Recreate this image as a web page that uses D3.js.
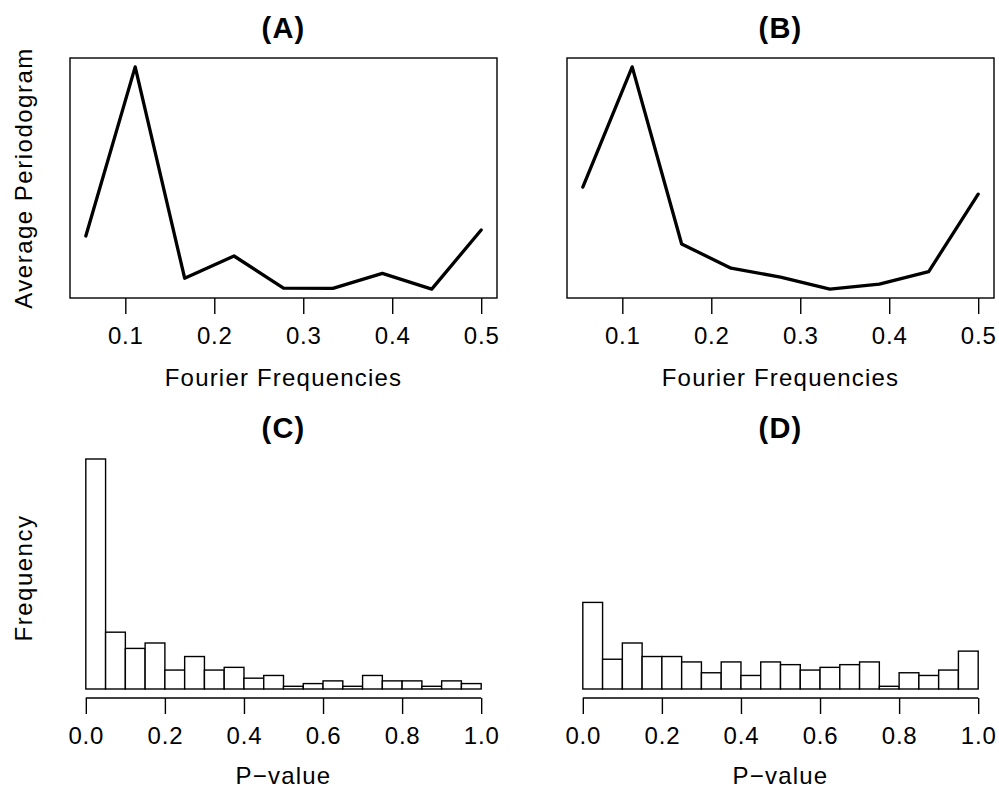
<!DOCTYPE html>
<html>
<head>
<meta charset="utf-8">
<script src="https://cdn.jsdelivr.net/npm/d3@7"></script>
<style>
body { margin: 0; background: #fff; }
svg text { font-family: "Liberation Sans", Arial, Helvetica, sans-serif; fill: #000; }
</style>
</head>
<body>
<div id="chart"></div>
<script>
// Fourier frequencies (k/18) and average periodograms (relative units, no y axis shown)
const fourierFreqs = [0.0556, 0.1111, 0.1667, 0.2222, 0.2778, 0.3333, 0.3889, 0.4444, 0.5];
const periodogramA = [0.239, 1.0, 0.049, 0.149, 0.004, 0.003, 0.071, 0.0, 0.266];
const periodogramB = [0.459, 1.0, 0.203, 0.094, 0.054, 0.0, 0.022, 0.079, 0.427];
const freqTicks = [0.1, 0.2, 0.3, 0.4, 0.5];

// P-value histograms, 20 bins of width 0.05
const binEdges = [0, 0.05, 0.1, 0.15, 0.2, 0.25, 0.3, 0.35, 0.4, 0.45, 0.5,
                  0.55, 0.6, 0.65, 0.7, 0.75, 0.8, 0.85, 0.9, 0.95, 1.0];
const countsC = [85, 21, 15, 17, 7, 12, 7, 8, 4, 5, 1, 2, 3, 1, 5, 3, 3, 1, 3, 2];
const countsD = [32, 11, 17, 12, 12, 10, 6, 10, 5, 10, 9, 7, 8, 9, 10, 1, 6, 5, 7, 14];
const pTicks = [0, 0.2, 0.4, 0.6, 0.8, 1.0];
const histYMax = 85;

const svg = d3.select("#chart").append("svg")
    .attr("width", 999)
    .attr("height", 788);

const fontSize = 24;
const ext = 0.04 / 1.08; // R style 4% axis extension

function addTitle(box, label) {
    svg.append("text")
        .attr("x", (box.left + box.right) / 2)
        .attr("y", box.top - 20)
        .attr("text-anchor", "middle")
        .style("font-size", "29px")
        .style("font-weight", "bold")
        .style("letter-spacing", "1.2px")
        .text(label);
}

function addYLabel(box, label) {
    svg.append("text")
        .attr("transform", `translate(32,${(box.top + box.bottom) / 2}) rotate(-90)`)
        .attr("text-anchor", "middle")
        .style("font-size", fontSize + "px")
        .style("letter-spacing", "1.5px")
        .text(label);
}

function addXAxis(box, x, ticks, fmt, label, withLine, titleOffset) {
    const g = svg.append("g")
        .attr("transform", `translate(0,${box.bottom})`)
        .call(d3.axisBottom(x).tickValues(ticks).tickSize(16).tickFormat(d3.format(fmt)));
    g.select(".domain").remove();
    g.selectAll(".tick line").attr("stroke", "#000").attr("stroke-width", 1.4);
    g.selectAll(".tick text")
        .attr("dy", null)
        .attr("y", 46)
        .style("font-size", fontSize + "px")
        .style("letter-spacing", "0.8px")
        .style("font-family", '"Liberation Sans", Arial, Helvetica, sans-serif');
    if (withLine) {
        g.append("line")
            .attr("x1", x(ticks[0])).attr("x2", x(ticks[ticks.length - 1]))
            .attr("y1", 0).attr("y2", 0)
            .attr("stroke", "#000").attr("stroke-width", 1.4);
    }
    svg.append("text")
        .attr("x", (box.left + box.right) / 2)
        .attr("y", box.bottom + titleOffset)
        .attr("text-anchor", "middle")
        .style("font-size", fontSize + "px")
        .style("letter-spacing", "1.2px")
        .text(label);
}

function linePanel(box, values, title, yLabel) {
    const w = box.right - box.left, h = box.bottom - box.top;
    const x = d3.scaleLinear()
        .domain(d3.extent(fourierFreqs))
        .range([box.left + w * ext, box.right - w * ext]);
    const y = d3.scaleLinear()
        .domain(d3.extent(values))
        .range([box.bottom - h * ext, box.top + h * ext]);

    svg.append("rect")
        .attr("x", box.left).attr("y", box.top)
        .attr("width", w).attr("height", h)
        .attr("fill", "none").attr("stroke", "#000").attr("stroke-width", 1.4);

    const line = d3.line()
        .x((d, i) => x(fourierFreqs[i]))
        .y(d => y(d));

    svg.append("path")
        .datum(values)
        .attr("d", line)
        .attr("fill", "none")
        .attr("stroke", "#000")
        .attr("stroke-width", 3.3)
        .attr("stroke-linejoin", "round")
        .attr("stroke-linecap", "round");

    addTitle(box, title);
    addXAxis(box, x, freqTicks, ".1f", "Fourier Frequencies", false, 88);
    if (yLabel) addYLabel(box, yLabel);
}

function histPanel(box, counts, title, yLabel) {
    const w = box.right - box.left;
    const x = d3.scaleLinear()
        .domain([0, 1])
        .range([box.left + w * ext, box.right - w * ext]);
    const y = d3.scaleLinear()
        .domain([0, histYMax])
        .range([box.bottom - 9, box.top + 1]);

    svg.append("g")
        .selectAll("rect")
        .data(counts)
        .enter().append("rect")
        .attr("x", (d, i) => x(binEdges[i]))
        .attr("width", (d, i) => x(binEdges[i + 1]) - x(binEdges[i]))
        .attr("y", d => y(d))
        .attr("height", d => y(0) - y(d))
        .attr("fill", "#fff")
        .attr("stroke", "#000")
        .attr("stroke-width", 1.4);

    addTitle(box, title);
    addXAxis(box, x, pTicks, ".1f", "P\u2212value", true, 86);
    if (yLabel) addYLabel(box, yLabel);
}

linePanel({ left: 70, top: 58, right: 497, bottom: 298 }, periodogramA, "(A)", "Average Periodogram");
linePanel({ left: 567, top: 58, right: 994, bottom: 298 }, periodogramB, "(B)", null);
histPanel({ left: 70, top: 458, right: 497, bottom: 698 }, countsC, "(C)", "Frequency");
histPanel({ left: 567, top: 458, right: 994, bottom: 698 }, countsD, "(D)", null);
</script>
</body>
</html>
